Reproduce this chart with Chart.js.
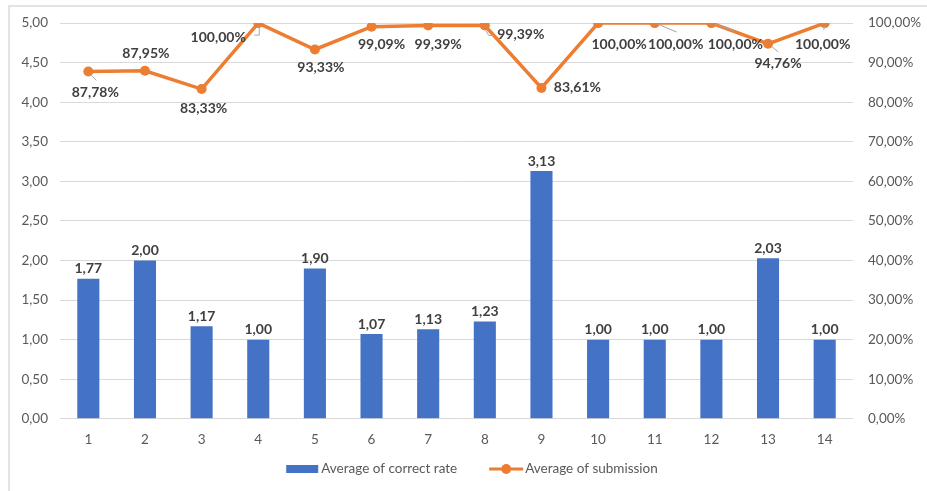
<!DOCTYPE html>
<html lang="en">
<head>
    <meta charset="UTF-8">
    <title>Correct rate and submission</title>
    <script src="https://cdn.jsdelivr.net/npm/chart.js"></script>
    <style>
        body {
            margin: 0;
            padding: 0;
            background: #fff;
        }
        #wrap {
            position: relative;
            width: 927px;
            height: 491px;
        }
        #frame {
            position: absolute;
            left: 8px;
            top: 5px;
            width: 930px;
            height: 500px;
            border: 2px solid #e3e3e3;
            box-sizing: border-box;
            pointer-events: none;
        }
    </style>
</head>
<body>
<div id="wrap">
    <canvas id="rateChart" width="927" height="491"></canvas>
    <div id="frame"></div>
</div>
<script>
    const weeks = ['1', '2', '3', '4', '5', '6', '7', '8', '9', '10', '11', '12', '13', '14'];
    const correctRate = [1.77, 2.00, 1.17, 1.00, 1.90, 1.07, 1.13, 1.23, 3.13, 1.00, 1.00, 1.00, 2.03, 1.00];
    const submission = [87.78, 87.95, 83.33, 100, 93.33, 99.09, 99.39, 99.39, 83.61, 100, 100, 100, 94.76, 100];

    // where each submission label sits relative to its point, plus gray leader lines
    const lineLabelOffsets = [
        [7, 21], [1, -17], [2, 19], [-40, 14], [6, 18], [10, 18], [10, 19],
        [36, 9], [36, 0], [21, 21], [21, 21], [24, 21], [10, 20], [-2, 21]
    ];
    const leaders = {
        0: [[1, 2], [8, 9]],
        3: [[1, 3], [1, 12], [-4, 12]],
        7: [[1, 5], [4, 10], [10, 10]],
        10: [[3, 1], [22, 9]],
        11: [[3, 1], [23, 8]],
        12: [[3, 2], [10, 8]],
        13: [[0, 3], [-1, 7]]
    };

    const BLUE = '#4472C4';
    const ORANGE = '#ED7D31';
    const TICK = '#595959';
    const LABEL = '#404040';
    const FONT = 'Lato, "Open Sans", sans-serif';

    const comma = (v, d) => v.toFixed(d).replace('.', ',');

    const valueLabels = {
        id: 'valueLabels',
        afterDatasetsDraw(chart) {
            const ctx = chart.ctx;
            ctx.save();
            ctx.font = 'bold 14px ' + FONT;
            ctx.fillStyle = LABEL;
            ctx.textAlign = 'center';
            ctx.textBaseline = 'middle';

            chart.getDatasetMeta(1).data.forEach((bar, i) => {
                ctx.fillText(comma(correctRate[i], 2), bar.x, bar.y - 10);
            });

            const pts = chart.getDatasetMeta(0).data;
            ctx.strokeStyle = '#a6a6a6';
            ctx.lineWidth = 1;
            pts.forEach((p, i) => {
                const path = leaders[i];
                if (path) {
                    ctx.beginPath();
                    ctx.moveTo(p.x + path[0][0], p.y + path[0][1]);
                    path.slice(1).forEach(q => ctx.lineTo(p.x + q[0], p.y + q[1]));
                    ctx.stroke();
                }
                const off = lineLabelOffsets[i];
                ctx.fillText(comma(submission[i], 2) + '%', p.x + off[0], p.y + off[1]);
            });
            ctx.restore();
        }
    };

    // legend drawn by hand: bar swatch first, then line-with-marker
    const bottomLegend = {
        id: 'bottomLegend',
        afterDraw(chart) {
            const ctx = chart.ctx;
            const sets = chart.data.datasets;
            const barSet = sets[1], lineSet = sets[0];
            const y = 469;
            ctx.save();
            ctx.font = '13.5px ' + FONT;
            ctx.textBaseline = 'middle';
            ctx.fillStyle = TICK;
            const w1 = ctx.measureText(barSet.label).width;
            const w2 = ctx.measureText(lineSet.label).width;
            const total = 32 + 3 + w1 + 32 + 34 + 2 + w2;
            let x = 472 - total / 2;

            ctx.fillStyle = barSet.backgroundColor;
            ctx.fillRect(x, y - 4, 32, 8);
            x += 35;
            ctx.fillStyle = TICK;
            ctx.fillText(barSet.label, x, y);
            x += w1 + 32;

            ctx.strokeStyle = lineSet.borderColor;
            ctx.lineWidth = 3;
            ctx.beginPath();
            ctx.moveTo(x, y);
            ctx.lineTo(x + 34, y);
            ctx.stroke();
            ctx.fillStyle = lineSet.borderColor;
            ctx.beginPath();
            ctx.arc(x + 17, y, 5, 0, Math.PI * 2);
            ctx.fill();
            x += 36;
            ctx.fillStyle = TICK;
            ctx.fillText(lineSet.label, x, y);
            ctx.restore();
        }
    };

    const ctx = document.getElementById('rateChart').getContext('2d');
    new Chart(ctx, {
        data: {
            labels: weeks,
            datasets: [{
                type: 'line',
                label: 'Average of submission',
                data: submission,
                yAxisID: 'y1',
                borderColor: ORANGE,
                backgroundColor: ORANGE,
                borderWidth: 3.5,
                pointRadius: 5,
                pointBackgroundColor: ORANGE,
                pointBorderWidth: 0,
                tension: 0,
                order: 0
            }, {
                type: 'bar',
                label: 'Average of correct rate',
                data: correctRate,
                yAxisID: 'y',
                backgroundColor: BLUE,
                barPercentage: 0.39,
                categoryPercentage: 1,
                order: 1
            }]
        },
        options: {
            responsive: false,
            animation: false,
            layout: { padding: { left: 0, right: 0, top: 19, bottom: 30 } },
            scales: {
                x: {
                    offset: true,
                    grid: { display: false, drawTicks: false },
                    border: { display: false },
                    ticks: { color: TICK, font: { family: FONT, size: 13.5 }, padding: 13 }
                },
                y: {
                    position: 'left',
                    min: 0,
                    max: 5,
                    grid: { color: '#d9d9d9', drawTicks: false },
                    border: { display: false },
                    ticks: {
                        stepSize: 0.5,
                        color: TICK,
                        font: { family: FONT, size: 13.5 },
                        padding: 12,
                        callback: v => comma(v, 2)
                    },
                    afterFit(scale) { scale.width = 60; }
                },
                y1: {
                    position: 'right',
                    min: 0,
                    max: 100,
                    grid: { display: false, drawTicks: false },
                    border: { display: false },
                    ticks: {
                        stepSize: 10,
                        color: TICK,
                        font: { family: FONT, size: 13.5 },
                        padding: 15,
                        callback: v => comma(v, 2) + '%'
                    },
                    afterFit(scale) { scale.width = 74; }
                }
            },
            plugins: {
                legend: { display: false },
                tooltip: { enabled: false }
            }
        },
        plugins: [valueLabels, bottomLegend]
    });
</script>
</body>
</html>
